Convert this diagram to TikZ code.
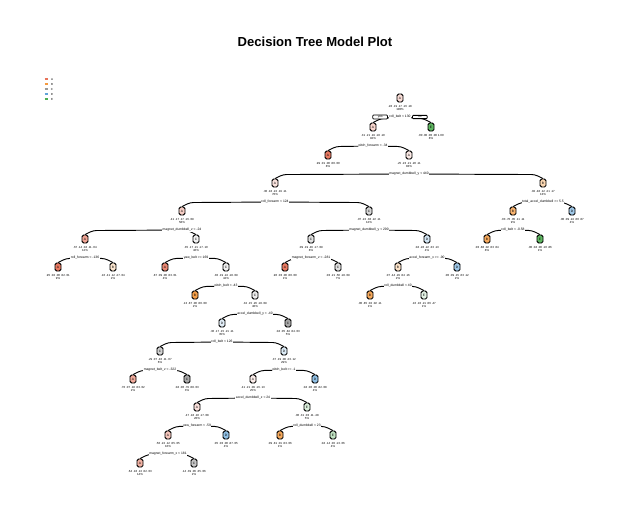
\documentclass[tikz,border=0pt]{standalone}
\usepackage{fontspec}
\setmainfont{Liberation Sans}
\usepackage{tikz}
\usetikzlibrary{positioning,backgrounds}
\definecolor{clsA}{HTML}{E8735A}
\definecolor{clsB}{HTML}{F59A3F}
\definecolor{clsC}{HTML}{9A9A9A}
\definecolor{clsD}{HTML}{5FA3D8}
\definecolor{clsE}{HTML}{4CAF50}

\begin{document}
\begin{tikzpicture}[x=0.75pt,y=-0.75pt,
  tbox/.style={draw,line width=0.7pt,rounded corners=1.2pt,minimum width=4.5pt,minimum height=6pt,inner sep=0pt,font=\fontsize{2.4}{2.6}\selectfont},
  ptxt/.style={inner sep=0pt,font=\fontsize{2.2}{2.4}\selectfont},
  slab/.style={inner sep=0.4pt,fill=white,font=\fontsize{2.5}{2.8}\selectfont},
  yn/.style={draw,line width=0.6pt,rounded corners=0.6pt,fill=white,minimum width=11pt,inner ysep=0.6pt,font=\fontsize{2.3}{2.5}\selectfont},
  branch/.style={line width=0.7pt,rounded corners=2.5pt}]
\useasboundingbox (0,0) rectangle (631,511);
% title and class legend
\node[font=\bfseries\fontsize{9.8}{11}\selectfont] (title) at (315,42) {Decision Tree Model Plot};
\foreach \cls/\yy in {A/79,B/84,C/89,D/94,E/99} {
  \draw[cls\cls,line width=0.9pt] (44.5,\yy) -- (47.5,\yy);
  \node[ptxt] (leg\cls) at (52,\yy) {\cls};
}
% nodes: name/x/y/fill/class/probabilities/percent
\foreach \nm/\xx/\yy/\col/\cls/\pr/\pc in {
  n1/400/98/clsA!25/A/.28 .19 .17 .16 .18/100\%,
  n2/373/127/clsA!30/A/.31 .21 .19 .18 .10/92\%,
  n3/431/127/clsE!90/E/.00 .00 .00 .00 1.00/8\%,
  n4/328/155/clsA!95/A/.99 .01 .00 .00 .00/8\%,
  n5/409/155/clsA!15/A/.25 .23 .21 .20 .11/83\%,
  n10/275/183/clsA!20/A/.30 .18 .22 .19 .11/70\%,
  n11/543/183/clsB!40/B/.02 .48 .12 .21 .17/13\%,
  n20/182/211/clsA!35/A/.41 .17 .17 .16 .09/58\%,
  n21/369/211/clsC!40/C/.07 .22 .38 .22 .11/12\%,
  n22/513/211/clsB!75/B/.03 .70 .05 .11 .11/9\%,
  n23/572/211/clsD!60/D/.00 .09 .24 .60 .07/4\%,
  n40/85/239/clsA!65/A/.67 .14 .04 .11 .04/12\%,
  n41/196/239/clsC!12/C/.35 .17 .21 .17 .10/46\%,
  n42/311/239/clsC!30/C/.09 .19 .46 .17 .09/8\%,
  n43/427/239/clsD!28/D/.04 .28 .22 .33 .13/4\%,
  n44/487/239/clsB!85/B/.03 .88 .02 .03 .04/8\%,
  n45/540/239/clsE!90/E/.00 .04 .00 .10 .86/1\%,
  n80/58/267/clsA!95/A/.95 .02 .00 .02 .01/9\%,
  n81/113/267/clsB!25/B/.16 .41 .12 .27 .04/2\%,
  n82/165/267/clsA!85/A/.87 .09 .00 .03 .01/4\%,
  n83/226/267/clsC!15/C/.30 .19 .24 .18 .09/42\%,
  n84/285/267/clsA!95/A/.96 .03 .00 .00 .00/1\%,
  n85/338/267/clsC!30/C/.03 .21 .50 .18 .09/7\%,
  n86/398/267/clsB!28/B/.07 .44 .29 .04 .16/2\%,
  n87/457/267/clsD!60/D/.00 .09 .15 .63 .12/2\%,
  n166/195/295/clsB!95/B/.13 .87 .00 .00 .00/2\%,
  n167/255/295/clsC!18/C/.32 .15 .26 .18 .09/40\%,
  n172/370/295/clsB!85/B/.00 .85 .02 .02 .11/1\%,
  n173/424/295/clsE!15/E/.16 .10 .21 .06 .47/1\%,
  n334/222/323/clsD!18/D/.36 .17 .15 .21 .11/35\%,
  n335/288/323/clsC!85/C/.04 .05 .84 .04 .03/5\%,
  n668/160/351/clsC!45/C/.29 .07 .46 .11 .07/6\%,
  n669/284/351/clsD!22/D/.37 .19 .08 .23 .12/29\%,
  n1336/133/379/clsA!60/A/.70 .07 .18 .03 .02/2\%,
  n1337/187/379/clsC!85/C/.04 .06 .79 .08 .03/3\%,
  n1338/253/379/clsA!12/A/.41 .21 .09 .16 .13/25\%,
  n1339/315/379/clsD!70/D/.04 .06 .00 .82 .08/4\%,
  n2676/197/407/clsA!22/A/.47 .18 .10 .17 .08/20\%,
  n2677/307/407/clsE!20/E/.06 .31 .03 .11 .48/5\%,
  n5352/168/435/clsA!40/A/.56 .22 .12 .05 .05/16\%,
  n5353/226/435/clsD!70/D/.05 .03 .00 .87 .05/4\%,
  n5354/280/435/clsB!85/B/.09 .81 .01 .03 .06/1\%,
  n5355/333/435/clsE!35/E/.04 .14 .03 .13 .66/4\%,
  n10704/140/463/clsA!55/A/.64 .18 .13 .02 .03/14\%,
  n10705/194/463/clsC!55/C/.14 .39 .06 .35 .06/2\%} {
  \node[tbox,fill=\col] (\nm) at (\xx,\yy) {\cls};
  \node[ptxt] (\nm p) at (\xx,\yy+8) {\pr};
  \node[ptxt] (\nm q) at (\xx,\yy+11) {\pc};
}
% root split with yes / no
\node[slab] (n1s) at (400,117) {roll\_belt < 130};
\node[yn,left=0.6pt of n1s] (yes) {yes};
\node[yn,right=0.6pt of n1s] (no) {no};
\begin{scope}[on background layer]
  \draw[branch] (n1s.center) -- ([xshift=6pt,yshift=3pt]n2.north) -- (n2.north);
  \draw[branch] (n1s.center) -- ([xshift=-6pt,yshift=3pt]n3.north) -- (n3.north);
\end{scope}
% other splits: parent/label/left/right
\foreach \p/\lab/\l/\r in {
  n2/pitch\_forearm < -34/n4/n5,
  n5/magnet\_dumbbell\_y < 440/n10/n11,
  n10/roll\_forearm < 124/n20/n21,
  n11/total\_accel\_dumbbell >= 5.5/n22/n23,
  n20/magnet\_dumbbell\_z < -24/n40/n41,
  n21/magnet\_dumbbell\_y < 290/n42/n43,
  n22/roll\_belt < -0.58/n44/n45,
  n40/roll\_forearm < -136/n80/n81,
  n41/yaw\_belt >= 169/n82/n83,
  n42/magnet\_forearm\_z < -281/n84/n85,
  n43/accel\_forearm\_x >= -90/n86/n87,
  n83/pitch\_belt < -43/n166/n167,
  n86/roll\_dumbbell < 40/n172/n173,
  n167/accel\_dumbbell\_y < -40/n334/n335,
  n334/roll\_belt < 126/n668/n669,
  n668/magnet\_belt\_z < -322/n1336/n1337,
  n669/pitch\_belt >= -1/n1338/n1339,
  n1338/accel\_dumbbell\_z < 24/n2676/n2677,
  n2676/yaw\_forearm < -59/n5352/n5353,
  n2677/roll\_dumbbell < 23/n5354/n5355,
  n5352/magnet\_forearm\_x < 181/n10704/n10705} {
  \path (\p) ++(0,19) node[slab] (\p s) {\lab};
  \begin{scope}[on background layer]
    \draw[branch] (\p s.center) -- ([xshift=6pt,yshift=3pt]\l.north) -- (\l.north);
    \draw[branch] (\p s.center) -- ([xshift=-6pt,yshift=3pt]\r.north) -- (\r.north);
  \end{scope}
}
\end{tikzpicture}
\end{document}
